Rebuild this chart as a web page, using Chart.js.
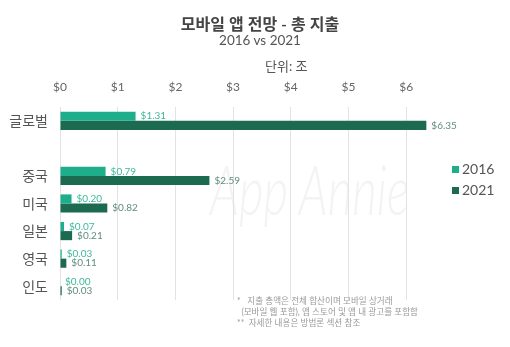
<!DOCTYPE html>
<html>
<head>
<meta charset="utf-8">
<script src="https://cdn.jsdelivr.net/npm/chart.js@4"></script>
<style>
  body { margin: 0; background: #fff; font-family: Lato, 'Noto Sans CJK KR', sans-serif; }
  #wrap { position: relative; width: 510px; height: 347px; overflow: hidden; }
  .t { position: absolute; white-space: nowrap; }
  #title { left: 0; width: 520px; text-align: center; top: 11px; font-size: 16px; font-weight: 600; color: #444; }
  #sub { left: 0; width: 520px; text-align: center; top: 32px; font-size: 13.5px; color: #555; }
  #unit { left: 265px; top: 56px; font-size: 13px; color: #555; }
  #wm { left: 210px; top: 146px; font-size: 70px; font-style: italic; font-weight: 300; color: #f3f3f3; transform: scaleX(0.68); transform-origin: left top; }
  .lg { position: absolute; left: 452px; font-size: 14px; color: #555; }
  .lg i { display: inline-block; width: 7px; height: 7px; margin-right: 3px; vertical-align: 1px; }
  #note { left: 237px; top: 296px; font-size: 8.6px; line-height: 11px; color: #9a9a9a; }
  canvas { position: absolute; left: 0; top: 0; }
</style>
</head>
<body>
<div id="wrap">
  <div class="t" id="wm">App Annie</div>
  <canvas id="chart" width="510" height="347"></canvas>
  <div class="t" id="title">모바일 앱 전망 - 총 지출</div>
  <div class="t" id="sub">2016 vs 2021</div>
  <div class="t" id="unit">단위: 조</div>
  <div class="lg" style="top:160px"><i style="background:#1fae8b"></i>2016</div>
  <div class="lg" style="top:181px"><i style="background:#1c6b50"></i>2021</div>
  <div class="t" id="note">*&nbsp;&nbsp;&nbsp;지출 총액은 전체 합산이며 모바일 상거래<br>&nbsp;&nbsp;(모바일 웹 포함), 앱 스토어 및 앱 내 광고를 포함함<br>**&nbsp;&nbsp;자세한 내용은 방법론 섹션 참조</div>
</div>
<script>
const categories = ['글로벌', '', '중국', '미국', '일본', '영국', '인도'];
const spend2016 = [1.31, null, 0.79, 0.20, 0.07, 0.03, 0.00];
const spend2021 = [6.35, null, 2.59, 0.82, 0.21, 0.11, 0.03];
const xTicks = [0, 1, 2, 3, 4, 5, 6];

const labelColors = ['#3db89b', '#5f8d7c'];

const valueLabels = {
  id: 'valueLabels',
  afterDatasetsDraw(chart) {
    const ctx = chart.ctx;
    ctx.save();
    ctx.font = '10px Lato, sans-serif';
    ctx.textBaseline = 'middle';
    ctx.textAlign = 'left';
    chart.data.datasets.forEach((ds, i) => {
      ctx.fillStyle = labelColors[i];
      chart.getDatasetMeta(i).data.forEach((bar, j) => {
        const v = ds.data[j];
        if (v === null) return;
        ctx.fillText('$' + v.toFixed(2), bar.x + 5, bar.y);
      });
    });
    ctx.restore();
  }
};

new Chart(document.getElementById('chart'), {
  type: 'bar',
  data: {
    labels: categories,
    datasets: [
      { label: '2016', data: spend2016, backgroundColor: '#1fae8b' },
      { label: '2021', data: spend2021, backgroundColor: '#1c6b50' }
    ]
  },
  options: {
    indexAxis: 'y',
    responsive: false,
    animation: false,
    layout: { padding: { left: 0, right: 75, top: 0, bottom: 47 } },
    datasets: { bar: { categoryPercentage: 0.66, barPercentage: 1 } },
    plugins: { legend: { display: false }, tooltip: { enabled: false } },
    scales: {
      x: {
        position: 'top',
        min: 0,
        max: 6.5,
        afterFit(s) { s.height = 107; },
        afterBuildTicks(s) { s.ticks = xTicks.map(v => ({ value: v })); },
        grid: { color: '#e3e3e3', drawTicks: false },
        border: { display: false },
        ticks: {
          padding: 13,
          color: '#666',
          font: { size: 12, family: 'Lato, sans-serif' },
          callback: v => '$' + v
        }
      },
      y: {
        afterFit(s) { s.width = 60; },
        grid: { display: false, drawTicks: false },
        border: { display: false },
        ticks: {
          padding: 12,
          color: '#555',
          font: { size: 14, family: "'Noto Sans CJK KR', sans-serif" }
        }
      }
    }
  },
  plugins: [valueLabels]
});
</script>
</body>
</html>
